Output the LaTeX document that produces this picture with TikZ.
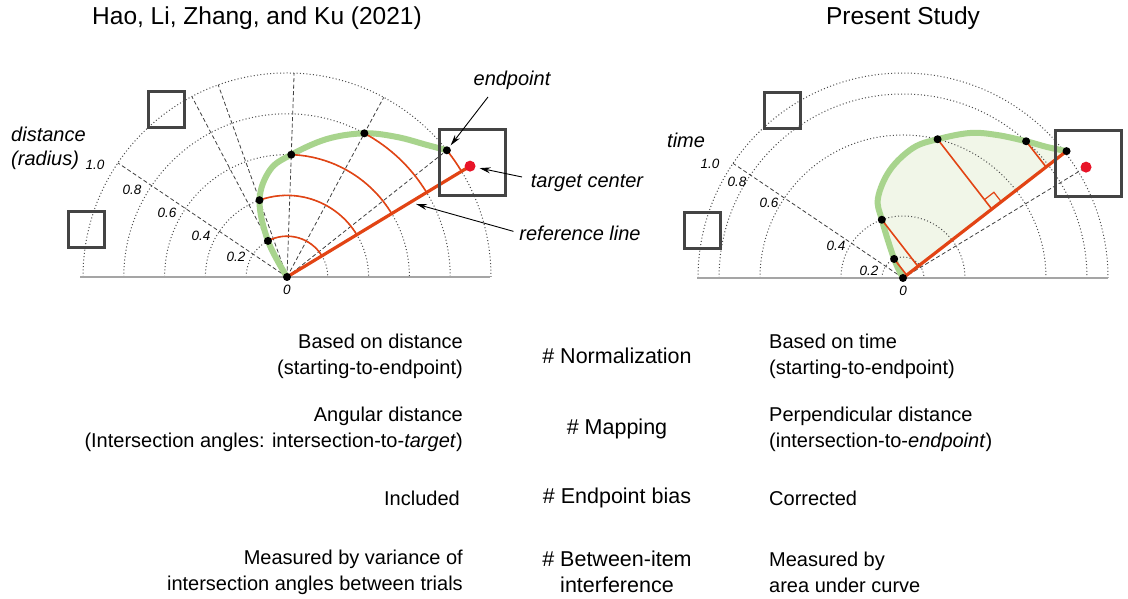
\documentclass[tikz,border=0pt]{standalone}
\usepackage{fontspec}
\setmainfont{Liberation Sans}
\usetikzlibrary{arrows.meta,calc}

\begin{document}
\begin{tikzpicture}[x=1pt,y=1pt]
\newcommand{\rstep}{40.8}
\definecolor{curvegreen}{RGB}{168,212,141}
\definecolor{fillgreen}{RGB}{241,246,232}
\definecolor{refred}{RGB}{226,68,20}
\definecolor{targetred}{RGB}{232,20,40}
\definecolor{boxgray}{RGB}{68,68,68}
\definecolor{axisgray}{RGB}{165,165,165}
\tikzstyle{tdot}=[circle,fill=black,minimum size=8pt,inner sep=0pt]
\tikzstyle{target}=[circle,fill=targetred,minimum size=11pt,inner sep=0pt]
\tikzstyle{smallbox}=[draw=boxgray,line width=3pt,minimum size=36pt,inner sep=0pt]
\tikzstyle{bigbox}=[smallbox,minimum size=66pt]
\tikzstyle{ring}=[black!70,line width=1pt,dash pattern=on 1pt off 2.3pt]
\tikzstyle{spoke}=[black!75,line width=0.8pt,dash pattern=on 4pt off 2.5pt]
\tikzstyle{baseaxis}=[axisgray,line width=1.8pt]
\tikzstyle{trace}=[curvegreen,line width=6pt,line cap=round,line join=round]
\tikzstyle{refline}=[refred,line width=3.2pt]
\tikzstyle{mapline}=[refred,line width=1.6pt]
\tikzstyle{scalelbl}=[font=\fontsize{13.5}{13.5}\selectfont\itshape,inner sep=0pt]
\tikzstyle{callout}=[font=\fontsize{20}{24}\selectfont\itshape,inner sep=0pt]
\tikzstyle{pointer}=[-{Stealth[length=11pt,width=6pt]},line width=0.9pt]
\tikzstyle{headline}=[font=\fontsize{24.5}{26}\selectfont,inner sep=0pt]
\tikzstyle{rowtxt}=[font=\fontsize{20}{26}\selectfont,inner sep=0pt]
\tikzstyle{rowkey}=[rowtxt,font=\fontsize{21.5}{26}\selectfont]
\path[use as bounding box,fill=white] (0,0) rectangle (1128,599);
\node[headline] (lefttitle) at (257,581) {Hao, Li, Zhang, and Ku (2021)};
\node[headline] (righttitle) at (903,581) {Present Study};
\begin{scope}[shift={(287,322)}]
\coordinate (lo) at (0,0);
\coordinate (l1) at (117.8:40.8);
\coordinate (l2) at (109.7:81.6);
\coordinate (l3) at (88:122.4);
\coordinate (l4) at (61.7:163.2);
\coordinate (l5) at (38.4:204);
\coordinate (ltc) at (31.2:214);
\foreach \r in {1,...,5}
  \draw[ring] (-\r*\rstep,0) arc[start angle=180,end angle=0,radius=\r*\rstep];
\foreach \a in {146,117.8,109.7,88,61.7,38.4}
  \draw[spoke] (lo) -- (\a:204);
\draw[baseaxis] (-207,0) -- (203,0);
\draw[trace] plot[smooth,tension=0.6] coordinates {(lo) (l1) (l2) (-17,107) (l3) (40,138) (l4) (110,140) (140,132) (l5)};
\draw[mapline] (l1) arc[start angle=117.8,end angle=31.2,radius=40.8];
\draw[mapline] (l2) arc[start angle=109.7,end angle=31.2,radius=81.6];
\draw[mapline] (l3) arc[start angle=88,end angle=31.2,radius=122.4];
\draw[mapline] (l4) arc[start angle=61.7,end angle=31.2,radius=163.2];
\draw[mapline] (l5) arc[start angle=38.4,end angle=31.2,radius=204];
\draw[refline] (lo) -- (ltc);
\node[tdot] (lodot) at (lo) {};
\node[tdot] (l1dot) at (l1) {};
\node[tdot] (l2dot) at (l2) {};
\node[tdot] (l3dot) at (l3) {};
\node[tdot] (l4dot) at (l4) {};
\node[tdot] (l5dot) at (l5) {};
\node[target] (ltarget) at (ltc) {};
\node[smallbox] (lbox1) at (-121,167) {};
\node[smallbox] (lbox2) at (-201,47) {};
\node[bigbox] (lbox3) at (185,114) {};
\node[scalelbl] (ls10) at (-192,112) {1.0};
\node[scalelbl] (ls08) at (-155,87) {0.8};
\node[scalelbl] (ls06) at (-120,64) {0.6};
\node[scalelbl] (ls04) at (-86,41) {0.4};
\node[scalelbl] (ls02) at (-51,20) {0.2};
\node[scalelbl] (ls00) at (0,-13) {0};
\end{scope}
\node[callout,anchor=west,align=left] (distlbl) at (11,451) {distance\\(radius)};
\node[callout] (endlbl) at (512,519) {endpoint};
\node[callout] (tclbl) at (587,416) {target center};
\node[callout] (reflbl) at (580,366) {reference line};
\coordinate (endtail) at (488,502);
\coordinate (tctail) at (522,422);
\coordinate (reftip) at (416,395);
\draw[pointer,shorten >=2pt] (endtail) -- (l5dot);
\draw[pointer,shorten >=4pt] (tctail) -- (ltarget);
\draw[pointer,shorten <=6pt] (reflbl.west) -- (reftip);
\begin{scope}[shift={(903,321)}]
\coordinate (ro) at (0,0);
\coordinate (r1) at (115:21);
\coordinate (r2) at (110:62);
\coordinate (r3) at (76:143);
\coordinate (r4) at (48:184);
\coordinate (r5) at (37.8:207);
\coordinate (rtc) at (31.2:214);
\fill[fillgreen] plot[smooth,tension=0.6] coordinates {(ro) (r1) (r2) (-25,80) (-13,108) (10,130) (r3) (67,145) (94,143) (r4) (144,131) (r5)} -- cycle;
\foreach \r in {21,62,143,184,205}
  \draw[ring] (-\r,0) arc[start angle=180,end angle=0,radius=\r];
\draw[spoke] (ro) -- (146:205);
\draw[spoke] (ro) -- (rtc);
\draw[baseaxis] (-206,0) -- (205,0);
\draw[trace] plot[smooth,tension=0.6] coordinates {(ro) (r1) (r2) (-25,80) (-13,108) (10,130) (r3) (67,145) (94,143) (r4) (144,131) (r5)};
\coordinate (f1) at ($(ro)!(r1)!(r5)$);
\coordinate (f2) at ($(ro)!(r2)!(r5)$);
\coordinate (f3) at ($(ro)!(r3)!(r5)$);
\coordinate (f4) at ($(ro)!(r4)!(r5)$);
\draw[mapline] (r1) -- (f1);
\draw[mapline] (r2) -- (f2);
\draw[mapline] (r3) -- (f3);
\draw[mapline] (r4) -- (f4);
\coordinate (m1) at ($(f3)!12pt!(r5)$);
\coordinate (m2) at ($(f3)!12pt!(r3)$);
\draw[refred,line width=1.2pt] (m1) -- ($(m1)+(m2)-(f3)$) -- (m2);
\draw[refline] (ro) -- (r5);
\node[tdot] (rodot) at (ro) {};
\node[tdot] (r1dot) at (r1) {};
\node[tdot] (r2dot) at (r2) {};
\node[tdot] (r3dot) at (r3) {};
\node[tdot] (r4dot) at (r4) {};
\node[tdot] (r5dot) at (r5) {};
\node[target] (rtarget) at (rtc) {};
\node[smallbox] (rbox1) at (-121,167) {};
\node[smallbox] (rbox2) at (-201,47) {};
\node[bigbox] (rbox3) at (185,114) {};
\node[scalelbl] (rs10) at (-193,114) {1.0};
\node[scalelbl] (rs08) at (-166,96) {0.8};
\node[scalelbl] (rs06) at (-134,75) {0.6};
\node[scalelbl] (rs04) at (-67,32) {0.4};
\node[scalelbl] (rs02) at (-34,7) {0.2};
\node[scalelbl] (rs00) at (0,-13) {0};
\end{scope}
\node[callout,anchor=west] (timelbl) at (667,459) {time};
\node[rowtxt,anchor=east,align=right] (hnorm) at (463,243) {Based on distance\\(starting-to-endpoint)};
\node[rowkey] (cnorm) at (617,243) {\# Normalization};
\node[rowtxt,anchor=west,align=left] (pnorm) at (769,243) {Based on time\\(starting-to-endpoint)};
\node[rowtxt,anchor=east,align=right] (hmap) at (463,170) {Angular distance\\(Intersection angles: intersection-to-\textit{target})};
\node[rowkey] (cmap) at (617,170) {\# Mapping};
\node[rowtxt,anchor=west,align=left] (pmap) at (769,170) {Perpendicular distance\\(intersection-to-\textit{endpoint})};
\node[rowtxt,anchor=east] (hbias) at (460,101) {Included};
\node[rowkey] (cbias) at (617,101) {\# Endpoint bias};
\node[rowtxt,anchor=west] (pbias) at (769,101) {Corrected};
\node[rowtxt,anchor=east,align=right] (hinter) at (463,27) {Measured by variance of\\intersection angles between trials};
\node[rowkey,align=center] (cinter) at (617,27) {\# Between-item\\interference};
\node[rowtxt,anchor=west,align=left] (pinter) at (769,27) {Measured by\\area under curve};
\end{tikzpicture}
\end{document}
